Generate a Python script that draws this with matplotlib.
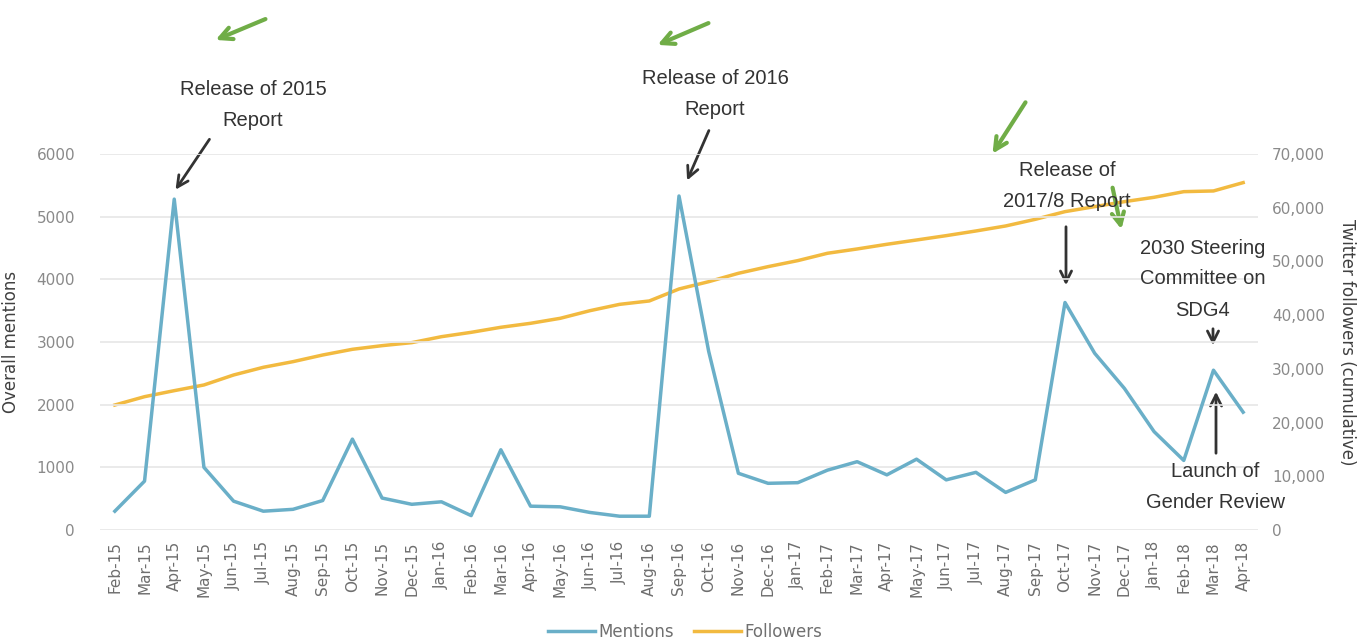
import matplotlib
matplotlib.use("Agg")
import matplotlib.pyplot as plt
from matplotlib.lines import Line2D

months = ["Feb-15","Mar-15","Apr-15","May-15","Jun-15","Jul-15","Aug-15","Sep-15","Oct-15","Nov-15",
          "Dec-15","Jan-16","Feb-16","Mar-16","Apr-16","May-16","Jun-16","Jul-16","Aug-16","Sep-16",
          "Oct-16","Nov-16","Dec-16","Jan-17","Feb-17","Mar-17","Apr-17","May-17","Jun-17","Jul-17",
          "Aug-17","Sep-17","Oct-17","Nov-17","Dec-17","Jan-18","Feb-18","Mar-18","Apr-18"]
mentions = [300, 780, 5280, 1000, 460, 300, 330, 470, 1450, 510,
            410, 450, 230, 1280, 380, 370, 280, 220, 220, 5330,
            2850, 905, 745, 755, 955, 1090, 880, 1130, 800, 920,
            600, 800, 3630, 2820, 2260, 1570, 1110, 2550, 1880]
followers = [23270, 24820, 25940, 27000, 28860, 30290, 31340, 32580, 33640, 34320,
             34880, 35990, 36800, 37740, 38480, 39410, 40830, 42010, 42640, 44870,
             46230, 47790, 49030, 50150, 51520, 52320, 53190, 53990, 54800, 55670,
             56600, 57840, 59270, 60200, 61130, 61940, 62990, 63120, 64670]
left_ticks = [0, 1000, 2000, 3000, 4000, 5000, 6000]
right_ticks = [0, 10000, 20000, 30000, 40000, 50000, 60000, 70000]

c_ment = "#6AAFC8"
c_foll = "#F2BA40"
W, H = 1368, 641

fig = plt.figure(figsize=(W/100, H/100), dpi=100)
ax = fig.add_axes([100/W, 1-530/H, 1158/W, 376/H])
ax2 = ax.twinx()

x = list(range(len(months)))
ax.plot(x, mentions, color=c_ment, lw=2.5, zorder=3)
ax2.plot(x, followers, color=c_foll, lw=2.5, zorder=2)

ax.set_zorder(2); ax.patch.set_visible(False)
ax.set_xlim(-0.5, len(months)-0.5)
ax.set_ylim(0, 6000)
ax2.set_ylim(0, 70000)
ax.set_yticks(left_ticks)
ax.set_yticklabels([str(v) for v in left_ticks])
ax2.set_yticks(right_ticks)
ax2.set_yticklabels([f"{v:,}" for v in right_ticks])
ax.set_xticks(x)
ax.set_xticklabels(months, rotation=90)
ax.grid(axis="y", color="#e6e6e6", lw=1.2, zorder=0)
for a in (ax, ax2):
    for s in a.spines.values():
        s.set_visible(False)
    a.tick_params(length=0, colors="#8a8a8a", labelsize=11)
ax.tick_params(axis="x", colors="#6e6e6e", labelsize=11, pad=8)
ax.tick_params(axis="y", pad=18)
ax2.tick_params(axis="y", pad=10)
ax.set_ylabel("Overall mentions", fontsize=12, color="#404040", labelpad=12)
ax2.set_ylabel("Twitter followers (cumulative)", fontsize=12, color="#404040", rotation=-90, labelpad=22)

handles = [Line2D([], [], color=c_ment, lw=2.5), Line2D([], [], color=c_foll, lw=2.5)]
fig.legend(handles, ["Mentions", "Followers"], loc="center", bbox_to_anchor=(685/W, 1-632/H),
           ncol=2, frameon=False, fontsize=12, handlelength=2.8, handletextpad=0.2,
           columnspacing=1.2, labelcolor="#707070")

fam = ["Liberation Sans", "DejaVu Sans"]
tcol = "#333333"
def txt(xp, yp, s, fs=14.5):
    fig.text(xp/W, 1-yp/H, s, ha="center", va="center", fontsize=fs, color=tcol,
             family=fam, linespacing=1.8)

def arr(x0, y0, x1, y1, col="#333333", lw=2, ms=20):
    fig.add_artist(matplotlib.patches.FancyArrowPatch(
        (x0/W, 1-y0/H), (x1/W, 1-y1/H), transform=fig.transFigure,
        arrowstyle="->", mutation_scale=ms, color=col, lw=lw))

txt(253, 105, "Release of 2015\nReport")
arr(211, 137, 174, 192)
txt(715, 94, "Release of 2016\nReport")
arr(710, 128, 686, 183)
txt(1067, 186, "Release of\n2017/8 Report")
arr(1066, 224, 1066, 288)
txt(1203, 279, "2030 Steering\nCommittee on\nSDG4")
arr(1213, 326, 1213, 348)
arr(1216, 456, 1216, 389)
txt(1215, 487, "Launch of\nGender Review")

g = "#70AD47"
arr(268, 18, 213, 41, col=g, lw=3, ms=22)
arr(711, 22, 655, 46, col=g, lw=3, ms=22)
arr(1027, 100, 991, 156, col=g, lw=3, ms=22)
arr(1112, 185, 1122, 232, col=g, lw=3, ms=22)

fig.savefig("out.png", dpi=100)
